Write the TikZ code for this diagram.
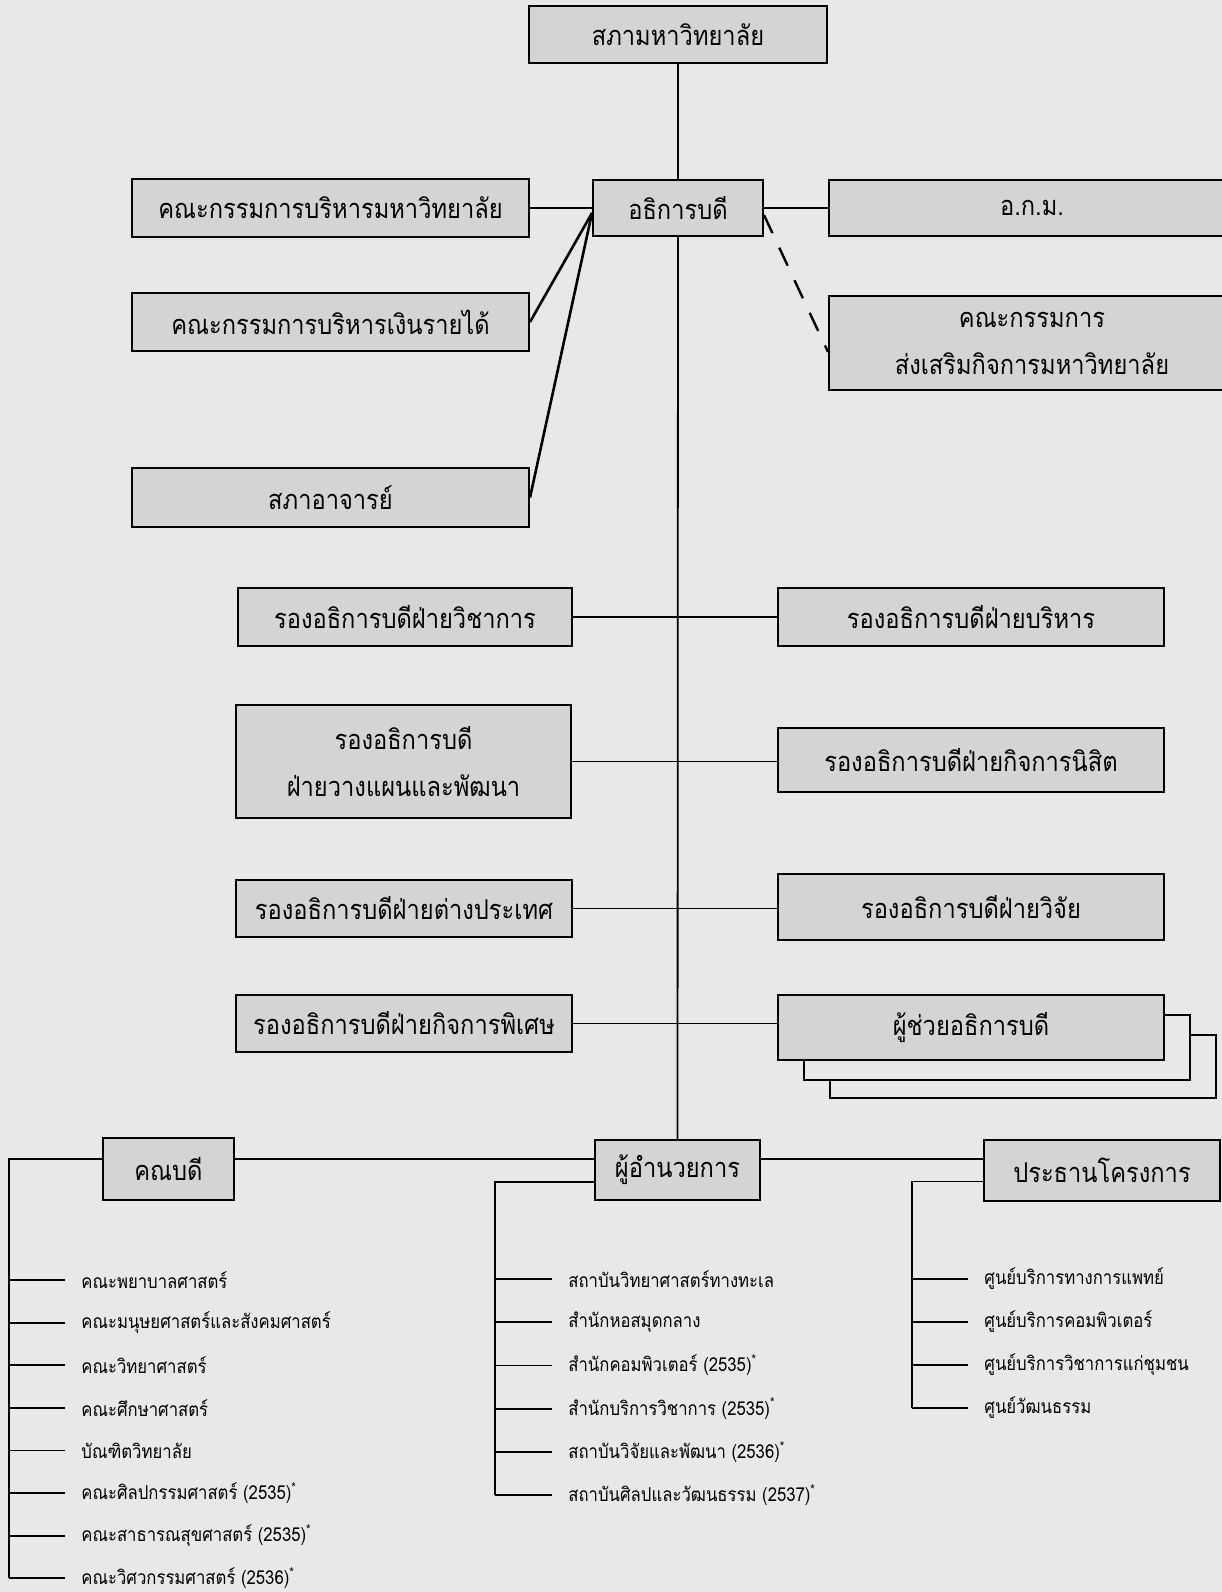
\documentclass[tikz,border=0pt]{standalone}
\usepackage{fontspec}
\setmainfont[Script=Thai,FakeStretch=0.87]{Loma}
\definecolor{paper}{gray}{0.91}
\definecolor{boxgray}{gray}{0.83}
\begin{document}
\begin{tikzpicture}[x=0.5pt,y=-0.5pt,
    box/.style={draw,line width=1pt,fill=boxgray,inner sep=0pt,align=center,font=\fontsize{13.6}{23.5}\selectfont},
    link/.style={line width=0.9pt},
    boldlink/.style={line width=1.3pt},
    dashlink/.style={line width=1.2pt,dash pattern=on 10pt off 8pt},
    item/.style={anchor=west,inner xsep=8pt,inner ysep=0pt,font=\fontsize{9.6}{11}\selectfont}]
    %% Page
    \useasboundingbox (0,0) rectangle (1222,1592);
    \clip (0,0) rectangle (1222,1592);
    \fill[paper] (0,0) rectangle (1222,1592);
    %% Top level
    \node[box,minimum width=149pt,minimum height=28.5pt] (senate) at (678,34.5) {สภามหาวิทยาลัย};
    \node[box,minimum width=85pt,minimum height=28pt] (rector) at (678,208) {อธิการบดี};
    \node[box,minimum width=198.5pt,minimum height=29pt] (exec) at (330.5,208) {คณะกรรมการบริหารมหาวิทยาลัย};
    \node[box,minimum width=198.5pt,minimum height=29pt] (income) at (330.5,322) {คณะกรรมการบริหารเงินรายได้};
    \node[box,minimum width=198.5pt,minimum height=29.5pt] (fsenate) at (330.5,497.5) {สภาอาจารย์};
    \node[box,minimum width=203pt,minimum height=28pt] (akm) at (1032,208) {อ.ก.ม.};
    \node[box,minimum width=203pt,minimum height=47pt] (promo) at (1032,343) {คณะกรรมการ\\ส่งเสริมกิจการมหาวิทยาลัย};
    %% Vice presidents
    \node[box,minimum width=167pt,minimum height=29pt] (vpacad) at (405,617) {รองอธิการบดีฝ่ายวิชาการ};
    \node[box,minimum width=193pt,minimum height=29pt] (vpadmin) at (971,617) {รองอธิการบดีฝ่ายบริหาร};
    \node[box,minimum width=167.5pt,minimum height=56.5pt] (vpplan) at (403.5,761.5) {รองอธิการบดี\\ฝ่ายวางแผนและพัฒนา};
    \node[box,minimum width=193pt,minimum height=32pt] (vpstud) at (971,760) {รองอธิการบดีฝ่ายกิจการนิสิต};
    \node[box,minimum width=168pt,minimum height=28.5pt] (vpintl) at (404,908.5) {รองอธิการบดีฝ่ายต่างประเทศ};
    \node[box,minimum width=193pt,minimum height=33pt] (vpres) at (971,907) {รองอธิการบดีฝ่ายวิจัย};
    \node[box,minimum width=168pt,minimum height=28.5pt] (vpspec) at (404,1023.5) {รองอธิการบดีฝ่ายกิจการพิเศษ};
    %% stacked assistants
    \draw[line width=1pt,fill=paper] (830,1035) rectangle (1216,1098);
    \draw[line width=1pt,fill=paper] (804,1015) rectangle (1190,1080);
    \node[box,minimum width=193pt,minimum height=32.5pt] (asst) at (971,1027.5) {ผู้ช่วยอธิการบดี};
    %% Bottom level
    \node[box,minimum width=65.5pt,minimum height=31pt] (dean) at (168.5,1169) {คณบดี};
    \node[box,minimum width=82.5pt,minimum height=30pt] (director) at (677.5,1170) {ผู้อำนวยการ};
    \node[box,minimum width=118pt,minimum height=30.5pt] (chair) at (1102,1170.5) {ประธานโครงการ};
    \coordinate (bar) at (0,1159);
    \coordinate (hub) at ([yshift=-2.5pt]rector.west);
    %% Connectors
    \draw[link] (senate) -- (rector);
    \draw[link] (rector) -- (director);
    \draw[link] (exec) -- (rector);
    \draw[link] (rector) -- (akm);
    \draw[boldlink] (income.east) -- (hub);
    \draw[boldlink] (fsenate.east) -- (hub);
    \draw[dashlink] ([yshift=-3.5pt]rector.east) -- ([yshift=-4.5pt]promo.west);
    \foreach \l/\r in {vpacad/vpadmin,vpplan/vpstud,vpintl/vpres,vpspec/asst}
        \draw[link] (\l.east) -- (\l.east -| \r.west);
    \draw[link] (dean.east |- bar) -- (director.west |- bar);
    \draw[link] (director.east |- bar) -- (chair.west |- bar);
    %% Faculties
    \draw[link] (dean.west |- bar) -| (9,1578);
    \foreach \t [count=\i] in {คณะพยาบาลศาสตร์,คณะมนุษยศาสตร์และสังคมศาสตร์,คณะวิทยาศาสตร์,คณะศึกษาศาสตร์,บัณฑิตวิทยาลัย,
        คณะศิลปกรรมศาสตร์ (2535)\textsuperscript{*},คณะสาธารณสุขศาสตร์ (2535)\textsuperscript{*},คณะวิศวกรรมศาสตร์ (2536)\textsuperscript{*}}{
        \node[item] (fac\i) at (65,{1237.4+42.6*\i}) {\t};
        \draw[link] (9,{1237.4+42.6*\i}) -- (fac\i.west);
    }
    %% Institutes
    \draw[link] ([yshift=-6pt]director.west) -| (495,1495);
    \foreach \t [count=\i] in {สถาบันวิทยาศาสตร์ทางทะเล,สำนักหอสมุดกลาง,สำนักคอมพิวเตอร์ (2535)\textsuperscript{*},
        สำนักบริการวิชาการ (2535)\textsuperscript{*},สถาบันวิจัยและพัฒนา (2536)\textsuperscript{*},สถาบันศิลปและวัฒนธรรม (2537)\textsuperscript{*}}{
        \node[item] (unit\i) at (552,{1235.8+43.2*\i}) {\t};
        \draw[link] (495,{1235.8+43.2*\i}) -- (unit\i.west);
    }
    %% Centres
    \draw[link] ([yshift=-5.5pt]chair.west) -| (912,1408);
    \foreach \t [count=\i] in {ศูนย์บริการทางการแพทย์,ศูนย์บริการคอมพิวเตอร์,ศูนย์บริการวิชาการแก่ชุมชน,ศูนย์วัฒนธรรม}{
        \node[item] (ctr\i) at (968,{1235.8+43*\i}) {\t};
        \draw[link] (912,{1235.8+43*\i}) -- (ctr\i.west);
    }
\end{tikzpicture}
\end{document}
